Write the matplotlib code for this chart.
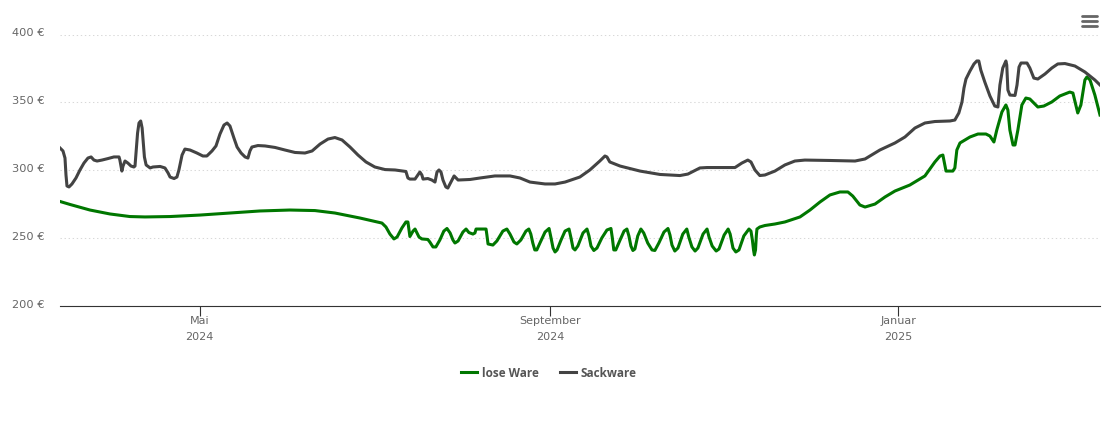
import pandas as pd
import matplotlib.pyplot as plt
import matplotlib.dates as mdates
from matplotlib.lines import Line2D

# days since 2024-03-13, price in EUR
sack = [(0,316.4),(1.05,314.2),(1.75,309),(2.1,296.5),(2.45,288.4),(3.15,287.7),(4.2,289.9),(5.6,294.3),(7,300.2),(8.4,305.3),
    (9.8,309),(10.9,309.8),(11.9,307.5),(13,306.8),(14.7,307.5),(16.8,308.6),(18.9,309.8),(20.7,309.8),(21,307.5),(21.7,299.4),
    (22.1,303.1),(22.8,306.8),(23.8,305.3),(24.9,303.1),(25.9,302.4),(26.3,303.1),(26.8,316.4),(27.2,327.4),(27.7,334.8),(28.3,336.3),
    (28.8,331.1),(29.2,320.1),(29.6,309.8),(30.2,303.9),(31.6,301.7),(32.6,302.4),(35.1,302.8),(36.8,301.7),(37.9,298),(38.6,295),
    (40,293.9),(41,295),(41.7,300.2),(42.8,311.2),(43.8,315.6),(45.6,314.9),(48,312.7),(50.1,310.5),(51.5,310.5),(53.3,314.2),
    (54.7,317.9),(56.1,326.7),(57.5,333.3),(58.6,334.8),(59.6,332.6),(61,323.7),(62.1,317.1),(63.5,312.7),(64.9,309.8),(65.9,309),
    (66.6,314.2),(67.3,317.1),(69.4,318.2),(71.9,317.9),(75.4,316.8),(78.9,314.9),(82.4,313.1),(85.9,312.7),(88.4,314.2),(91.2,319.3),
    (94,323),(96.4,324.1),(98.9,322.3),(101.7,317.1),(104.5,311.2),(107.3,306.1),(110.4,302.4),(114,300.5),(117.5,300.2),(121.3,299.1),
    (122,294.3),(122.7,293.5),(124.5,293.5),(125.5,296.5),(126.2,298.7),(126.9,296.5),(127.3,293.5),(129,293.9),(130.4,292.8),(131.5,291.3),
    (132.2,298.7),(132.9,300.2),(133.6,298.7),(134.3,292.8),(135.3,287.7),(136,286.9),(137.1,291.3),(138.2,295.8),(138.9,294.3),(139.6,292.8),
    (143.8,293.2),(147.3,294.3),(152.5,295.8),(157.8,295.8),(161.3,294.3),(164.8,291.3),(170.1,289.9),(173.6,289.9),(177.1,291.3),(182.3,295),
    (185.8,300.2),(189.3,306.8),(191.1,310.5),(191.8,309.8),(192.8,306.1),(196.4,303.1),(203.4,299.4),(210.4,296.9),(217.4,296.1),(220.2,297.2),
    (224.4,301.7),(226.9,302),(236.7,302),(239.1,305.3),(241.2,307.5),(242.3,306.1),(243.7,300.2),(245.4,296.1),(247.2,296.5),(250.7,299.4),
    (254.2,303.9),(257.7,306.8),(261.2,307.5),(270,307.2),(278.8,306.8),(282.3,308.3),(287.5,314.9),(292.8,320.1),(296.3,324.5),(299.8,331.1),
    (303.3,334.8),(306.8,335.9),(312.1,336.3),(313.8,337),(315.2,342.2),(316.3,350.3),(317,360.6),(317.7,367.2),(319.1,373.1),(320.5,378.3),
    (321.5,380.5),(322.2,380.5),(322.9,373.8),(324.3,365),(326.1,354.7),(327.8,347.3),(328.9,346.6),(329.6,362.8),(330.6,375.3),(331.7,380.5),
    (332,377.5),(332.4,359.1),(333.1,355.4),(334.9,355.1),(335.6,362.8),(336.3,376),(337,379),(339.1,379),(340.1,375.3),(341.5,367.9),
    (342.9,367.2),(345.4,370.9),(347.8,375.3),(349.9,378.3),(352.4,378.6),(355.9,376.8),(359.4,372.4),(362.9,366.5),(364.7,362.8)]

lose = [(0,277),(3.5,274.8),(10.5,270.7),(17.5,267.8),(24.5,265.9),(29.8,265.6),(38.6,265.9),(49.1,267),(59.6,268.5),(70.1,270),
    (80.6,270.7),(89.4,270.3),(96.4,268.5),(105.2,264.8),(112.9,261.1),(114.3,258.2),(115.7,253),(117.1,249.4),(118.2,250.8),(119.9,257.5),
    (121.3,261.9),(122,261.9),(122.4,256),(122.7,251.2),(123.8,255.2),(124.5,256.7),(125.2,253.8),(125.9,250.8),(126.9,249.4),(129,249),
    (129.7,247.1),(130.8,243.5),(131.8,243.5),(133.2,248.6),(134.6,255.2),(135.7,257.1),(136.8,253.8),(137.8,248.6),(138.5,246.4),(139.6,247.9),
    (141.3,254.5),(142.4,256.7),(143.4,254.1),(144.8,253),(145.5,253.8),(145.9,256.7),(149.4,256.7),(149.7,252.3),(150.1,245.7),(151.8,244.9),
    (153.2,247.9),(155.3,255.2),(156.7,256.7),(157.8,253),(159.2,247.1),(160.2,245.7),(161.6,248.6),(163.4,255.2),(164.4,256.7),(165.1,253),
    (165.8,246.4),(166.5,241.3),(167.2,241.3),(168.3,246.4),(170.1,254.5),(171.5,257.1),(172.2,250.1),(172.9,242.7),(173.6,239.8),(174.3,241.3),
    (175.7,248.6),(177.1,255.2),(178.5,256.7),(179.2,250.1),(179.9,242.7),(180.6,241.3),(181.6,244.2),(183.4,253.8),(184.8,256.7),(185.5,251.6),
    (186.2,244.2),(187.2,240.9),(188.3,242.7),(190,250.1),(191.8,256),(193.2,257.1),(193.7,250),(194.2,241.3),(194.9,241.3),(196.4,248.6),
    (197.8,255.2),(198.8,256.7),(199.5,251.6),(200.2,244.2),(200.9,240.9),(201.6,242),(202.6,251.6),(203.7,256.7),(204.7,253.8),(206.1,246.4),
    (207.6,241.3),(208.6,240.9),(210,246.4),(211.8,254.5),(213.2,257.1),(213.9,252.3),(214.6,244.9),(215.6,240.5),(216.7,242.7),(218.4,253),
    (219.8,256.7),(220.5,250.8),(221.6,243.5),(222.7,240.5),(223.7,242.7),(225.5,253),(226.9,256.7),(227.6,250.8),(228.7,244.2),(230.1,240.5),
    (231.1,242),(232.9,252.3),(234.3,256.7),(235,253),(236,242.7),(237,239.8),(238.1,241.3),(239.8,251.6),(241.6,256.7),(242.3,255.2),
    (242.8,248.6),(243.2,241.3),(243.5,237.6),(243.9,241.3),(244.2,252.3),(244.4,256.7),(245.4,258.2),(247.2,259.3),(250.7,260.4),(254.2,261.9),
    (259.5,265.6),(263,270.7),(266.5,276.6),(270,281.8),(273.5,284),(276.3,284),(278,281),(280.5,274.4),(282.3,272.9),(285.8,275.1),
    (289.3,280.3),(292.8,284.7),(298,289.1),(303.3,295.8),(306.8,306.1),(308.6,310.5),(309.6,311.2),(310.3,303.9),(310.7,299.4),(313.1,299.4),
    (313.8,301.7),(314.5,314.9),(315.6,320.1),(319.1,324.5),(321.9,326.7),(324.7,326.7),(326.1,325.2),(327.5,320.8),(328.5,329.6),(330.3,342.9),
    (331.7,348.1),(332.4,344.4),(333.1,329.6),(334.2,318.6),(334.9,318.6),(335.9,329.6),(337.3,348.1),(338.7,353.2),(340.1,352.5),(342.9,346.6),
    (345,347.3),(347.8,350.3),(350.6,354.7),(354.1,357.6),(355.2,356.9),(356.2,348.1),(356.9,342.2),(358,348.1),(359.4,366.5),(360.1,368.7),
    (361.2,366.5),(362.9,355.4),(364.7,340.7)]

start = pd.Timestamp("2024-03-13")
df_sack = pd.DataFrame(sack, columns=["day", "price"])
df_lose = pd.DataFrame(lose, columns=["day", "price"])
df_sack["date"] = start + pd.to_timedelta(df_sack["day"], unit="D")
df_lose["date"] = start + pd.to_timedelta(df_lose["day"], unit="D")

W, H = 1110, 423
fig = plt.figure(figsize=(W / 100, H / 100), dpi=100)
ax = fig.add_axes([60 / W, 1 - 306 / H, 1040 / W, 271.5 / H])

ax.plot(df_lose["date"], df_lose["price"], color="#007700", lw=2.2, label="lose Ware", solid_joinstyle="round", zorder=3)
ax.plot(df_sack["date"], df_sack["price"], color="#434343", lw=2.2, label="Sackware", solid_joinstyle="round", zorder=3)

ax.set_xlim(start, start + pd.Timedelta(days=364.7))
ax.set_ylim(200, 400)
ax.set_yticks([200, 250, 300, 350, 400])
ax.set_yticklabels(["200 €", "250 €", "300 €", "350 €", "400 €"], va="center")
ax.set_xticks([mdates.date2num(pd.Timestamp(d)) for d in ["2024-05-01", "2024-09-01", "2025-01-01"]])
ax.set_xticklabels(["Mai\n2024", "September\n2024", "Januar\n2025"], linespacing=1.75)

ax.grid(axis="y", color="#d8d8d8", lw=0.75, ls=(0, (1.3, 2.6)))
ax.set_axisbelow(True)
for s in ["top", "right", "left"]:
    ax.spines[s].set_visible(False)
ax.spines["bottom"].set_color("#333333")
ax.spines["bottom"].set_linewidth(0.8)
ax.tick_params(axis="y", length=0, pad=11, labelsize=8.2, labelcolor="#666666")
for lab in ax.get_yticklabels():
    lab.set_y(lab.get_position()[1])
    lab.set_transform(lab.get_transform() + plt.matplotlib.transforms.ScaledTranslation(0, 1.5 / 100, fig.dpi_scale_trans))
ax.tick_params(axis="x", length=7, width=0.8, color="#333333", pad=0.3, labelsize=8, labelcolor="#666666")

fig.legend(loc="center", bbox_to_anchor=(549 / W, 1 - 373 / H), ncol=2, frameon=False,
           handlelength=1.35, handletextpad=0.42, columnspacing=1.8,
           prop={"family": "Open Sans", "weight": "bold", "size": 8.5}, labelcolor="#555555")

# menu icon top right
for y in [16, 21.5, 26.5]:
    fig.add_artist(Line2D([1082 / W, 1097 / W], [1 - y / H, 1 - y / H], color="#666666", lw=2.0,
                          solid_capstyle="round"))

fig.savefig("out.png", dpi=100)
